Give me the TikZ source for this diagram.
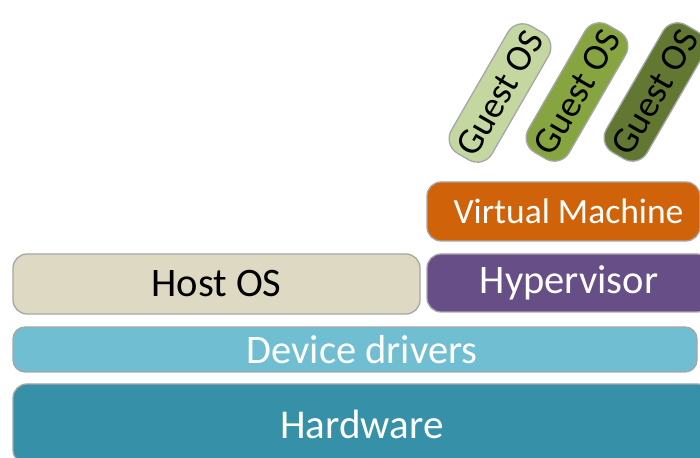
\documentclass[tikz,border=0pt]{standalone}
\usepackage{fontspec}
\setmainfont{Carlito}
\definecolor{hostc}{RGB}{221,217,195}
\definecolor{drvc}{RGB}{112,190,210}
\definecolor{hwc}{RGB}{53,144,168}
\definecolor{hypc}{RGB}{103,78,135}
\definecolor{vmc}{RGB}{208,98,10}
\definecolor{g1c}{RGB}{196,215,160}
\definecolor{g2c}{RGB}{134,165,64}
\definecolor{g3c}{RGB}{98,120,50}
\definecolor{edgec}{RGB}{166,166,166}
\tikzset{
  layer/.style={draw=edgec, line width=1.3pt, rounded corners=14pt, inner sep=0pt, align=center},
  guest/.style={layer, rotate=60, minimum width=147pt, minimum height=47pt, rounded corners=17pt,
     font=\fontsize{37}{37}\selectfont, text=black},
}
\begin{document}
\begin{tikzpicture}[x=1pt,y=1pt]
\useasboundingbox (0,0) rectangle (700,457);
\clip (0,0) rectangle (700,457);
\node[layer, fill=hwc, text=white, minimum width=698pt, minimum height=80pt,
  font=\fontsize{41}{41}\selectfont] (hw) at (362,33) {Hardware};
\node[layer, fill=drvc, text=white, minimum width=684pt, minimum height=45pt, rounded corners=12pt,
  font=\fontsize{40.5}{40.5}\selectfont] (drv) at (355,107.5) {\hspace*{14pt}Device drivers};
\node[layer, fill=hostc, text=black, minimum width=407pt, minimum height=60pt,
  font=\fontsize{40.5}{40.5}\selectfont] (host) at (216.5,173) {Host OS};
\node[layer, fill=hypc, text=white, minimum width=284pt, minimum height=58pt,
  font=\fontsize{40.5}{40.5}\selectfont] (hyp) at (569,174) {Hypervisor};
\node[layer, fill=vmc, text=white, minimum width=273pt, minimum height=59pt,
  font=\fontsize{35.5}{35.5}\selectfont] (vm) at (563.5,245.5) {\hspace*{10pt}Virtual Machine};
\node[guest, fill=g1c] (g1) at (500,364) {Guest OS};
\node[guest, fill=g2c] (g2) at (577,365) {Guest OS};
\node[guest, fill=g3c] (g3) at (655,365) {Guest OS};
\end{tikzpicture}
\end{document}
